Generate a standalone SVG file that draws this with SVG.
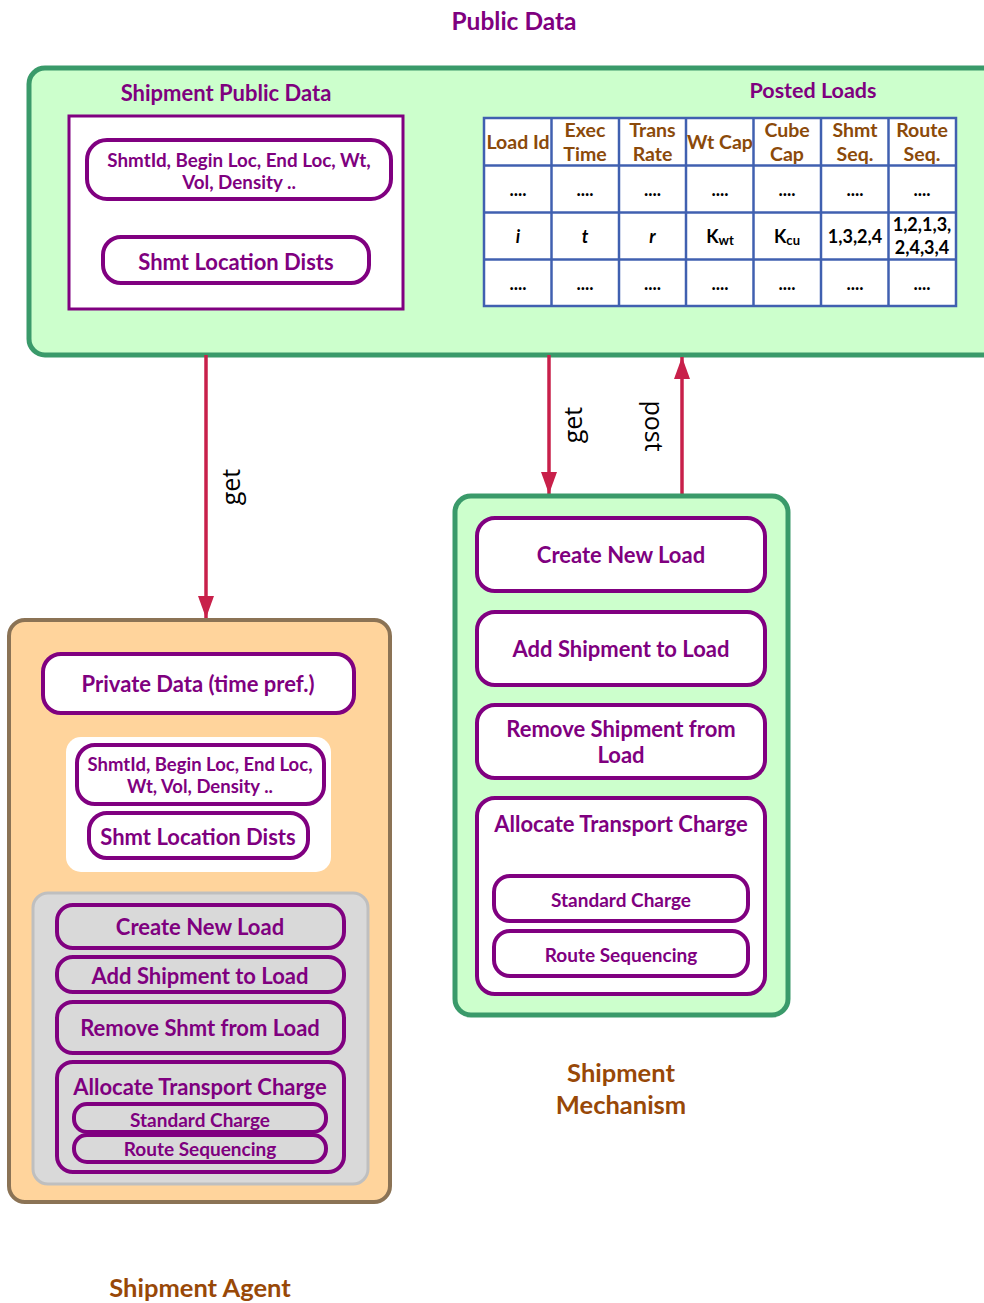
<svg xmlns="http://www.w3.org/2000/svg" width="984" height="1303" viewBox="0 0 984 1303">
<defs>
<style>
text{font-family:Lato,"Open Sans","Liberation Sans",sans-serif;font-weight:bold;text-anchor:middle;dominant-baseline:central}
.p{fill:#7F007F}
.br{fill:#984807}
.th{fill:#8B4A0A;font-size:19.5px}
.td{fill:#000;font-size:18px}
.green{fill:#CCFFCC;stroke:#3A9A6A;stroke-width:5}
.pb{fill:#fff;stroke:#800080;stroke-width:4}
.pbg{fill:#D9D9D9;stroke:#800080;stroke-width:4}
.conn{stroke:#C8204A;stroke-width:3.5;fill:none}
.lbl{font-family:"Open Sans","Liberation Sans",sans-serif;font-weight:normal;fill:#000;font-size:25px}
.tb{fill:#fff;stroke:#4060B0;stroke-width:2.5}
</style>
<marker id="ah" viewBox="0 0 22 16" refX="22" refY="8" markerWidth="22" markerHeight="16" markerUnits="userSpaceOnUse" orient="auto">
<path d="M0,0 L22,8 L0,16 z" fill="#C8204A"/>
</marker>
</defs>
<text class="p" x="514" y="20" font-size="24.5">Public Data</text>

<g id="public-data">
<rect class="green" x="29" y="68" width="980" height="287" rx="16"/>
<text class="p" x="226" y="92" font-size="22">Shipment Public Data</text>
<rect x="69" y="116" width="334" height="193" fill="#fff" stroke="#800080" stroke-width="3"/>
<g id="pub-fields">
<rect class="pb" x="87" y="140" width="304" height="59" rx="20"/>
<text class="p" x="239" y="159" font-size="18.8">ShmtId, Begin Loc, End Loc, Wt,</text>
<text class="p" x="239" y="181" font-size="18.8">Vol, Density ..</text>
</g>
<g id="pub-dists">
<rect class="pb" x="103" y="237" width="266" height="46" rx="18"/>
<text class="p" x="236" y="261" font-size="22">Shmt Location Dists</text>
</g>
<text class="p" x="813" y="90" font-size="21.5">Posted Loads</text>
<g id="posted-loads">
<rect class="tb" x="484" y="118" width="472" height="188"/>
<g stroke="#4060B0" stroke-width="2.5">
<line x1="551.5" y1="118" x2="551.5" y2="306"/>
<line x1="619" y1="118" x2="619" y2="306"/>
<line x1="686" y1="118" x2="686" y2="306"/>
<line x1="753.5" y1="118" x2="753.5" y2="306"/>
<line x1="821" y1="118" x2="821" y2="306"/>
<line x1="888.5" y1="118" x2="888.5" y2="306"/>
<line x1="484" y1="165.5" x2="956" y2="165.5"/>
<line x1="484" y1="212.5" x2="956" y2="212.5"/>
<line x1="484" y1="259.5" x2="956" y2="259.5"/>
</g>
<text class="th" x="518" y="141">Load Id</text>
<text class="th" x="585" y="129">Exec</text><text class="th" x="585" y="153">Time</text>
<text class="th" x="652.5" y="129">Trans</text><text class="th" x="652.5" y="153">Rate</text>
<text class="th" x="720" y="141">Wt Cap</text>
<text class="th" x="787" y="129">Cube</text><text class="th" x="787" y="153">Cap</text>
<text class="th" x="855" y="129">Shmt</text><text class="th" x="855" y="153">Seq.</text>
<text class="th" x="922" y="129">Route</text><text class="th" x="922" y="153">Seq.</text>
<text class="td" x="518" y="189">....</text>
<text class="td" x="585" y="189">....</text>
<text class="td" x="652.5" y="189">....</text>
<text class="td" x="720" y="189">....</text>
<text class="td" x="787" y="189">....</text>
<text class="td" x="855" y="189">....</text>
<text class="td" x="922" y="189">....</text>
<text class="td" x="518" y="236" font-style="italic">i</text>
<text class="td" x="585" y="236" font-style="italic">t</text>
<text class="td" x="652.5" y="236" font-style="italic">r</text>
<text class="td" x="720" y="236" font-weight="normal" font-size="20">K<tspan font-size="13" dy="4">wt</tspan></text>
<text class="td" x="787" y="236" font-weight="normal" font-size="20">K<tspan font-size="13" dy="4">cu</tspan></text>
<text class="td" x="855" y="236" font-size="19">1,3,2,4</text>
<text class="td" x="922" y="224" font-size="19">1,2,1,3,</text>
<text class="td" x="922" y="247" font-size="19">2,4,3,4</text>
<text class="td" x="518" y="283">....</text>
<text class="td" x="585" y="283">....</text>
<text class="td" x="652.5" y="283">....</text>
<text class="td" x="720" y="283">....</text>
<text class="td" x="787" y="283">....</text>
<text class="td" x="855" y="283">....</text>
<text class="td" x="922" y="283">....</text>
</g>
</g>

<g id="connectors">
<line class="conn" x1="206" y1="355" x2="206" y2="618" marker-end="url(#ah)"/>
<line class="conn" x1="549" y1="355" x2="549" y2="494" marker-end="url(#ah)"/>
<line class="conn" x1="682" y1="496" x2="682" y2="357" marker-end="url(#ah)"/>
<text class="lbl" transform="translate(230,487) rotate(-90)">get</text>
<text class="lbl" transform="translate(572,425) rotate(-90)">get</text>
<text class="lbl" transform="translate(655,426) rotate(90)">post</text>
</g>

<g id="shipment-agent">
<rect x="9" y="620" width="381" height="582" rx="16" fill="#FFD49C" stroke="#8B7355" stroke-width="4"/>
<g id="agent-private">
<rect class="pb" x="43" y="654" width="311" height="59" rx="18"/>
<text class="p" x="198" y="683" font-size="22">Private Data (time pref.)</text>
</g>
<rect x="66" y="737" width="265" height="135" rx="15" fill="#fff"/>
<g id="agent-fields">
<rect class="pb" x="77" y="745" width="247" height="59" rx="18"/>
<text class="p" x="200" y="764" font-size="18.5">ShmtId, Begin Loc, End Loc,</text>
<text class="p" x="200" y="786" font-size="18.5">Wt, Vol, Density ..</text>
</g>
<g id="agent-dists">
<rect class="pb" x="89" y="813" width="219" height="45" rx="18"/>
<text class="p" x="198" y="836" font-size="22">Shmt Location Dists</text>
</g>
<rect x="33" y="893" width="335" height="291" rx="15" fill="#D9D9D9" stroke="#BFBFBF" stroke-width="3"/>
<g id="agent-create">
<rect class="pbg" x="57" y="905" width="287" height="43" rx="16"/>
<text class="p" x="200" y="926" font-size="22">Create New Load</text>
</g>
<g id="agent-add">
<rect class="pbg" x="57" y="957" width="287" height="35" rx="16"/>
<text class="p" x="200" y="975" font-size="22">Add Shipment to Load</text>
</g>
<g id="agent-remove">
<rect class="pbg" x="57" y="1002" width="287" height="51" rx="16"/>
<text class="p" x="200" y="1027" font-size="22">Remove Shmt from Load</text>
</g>
<g id="agent-allocate">
<rect class="pbg" x="57" y="1062" width="287" height="110" rx="16"/>
<text class="p" x="200" y="1086" font-size="22">Allocate Transport Charge</text>
<rect class="pbg" x="74" y="1104" width="252" height="28" rx="13"/>
<text class="p" x="200" y="1119" font-size="19">Standard Charge</text>
<rect class="pbg" x="74" y="1135" width="252" height="27" rx="13"/>
<text class="p" x="200" y="1148" font-size="19">Route Sequencing</text>
</g>
</g>

<g id="shipment-mechanism">
<rect class="green" x="455" y="496" width="333" height="519" rx="16"/>
<g id="mech-create">
<rect class="pb" x="477" y="518" width="288" height="73" rx="18"/>
<text class="p" x="621" y="554" font-size="22">Create New Load</text>
</g>
<g id="mech-add">
<rect class="pb" x="477" y="612" width="288" height="73" rx="18"/>
<text class="p" x="621" y="648" font-size="22">Add Shipment to Load</text>
</g>
<g id="mech-remove">
<rect class="pb" x="477" y="705" width="288" height="73" rx="18"/>
<text class="p" x="621" y="728" font-size="22">Remove Shipment from</text>
<text class="p" x="621" y="754" font-size="22">Load</text>
</g>
<g id="mech-allocate">
<rect class="pb" x="477" y="798" width="288" height="196" rx="18"/>
<text class="p" x="621" y="823" font-size="22">Allocate Transport Charge</text>
<rect class="pb" x="494" y="876" width="254" height="45" rx="16"/>
<text class="p" x="621" y="899" font-size="19">Standard Charge</text>
<rect class="pb" x="494" y="931" width="254" height="45" rx="16"/>
<text class="p" x="621" y="954" font-size="19">Route Sequencing</text>
</g>
</g>

<text class="br" x="621" y="1072" font-size="25.5">Shipment</text>
<text class="br" x="621" y="1104" font-size="25.5">Mechanism</text>
<text class="br" x="200" y="1287" font-size="25.5">Shipment Agent</text>
</svg>
